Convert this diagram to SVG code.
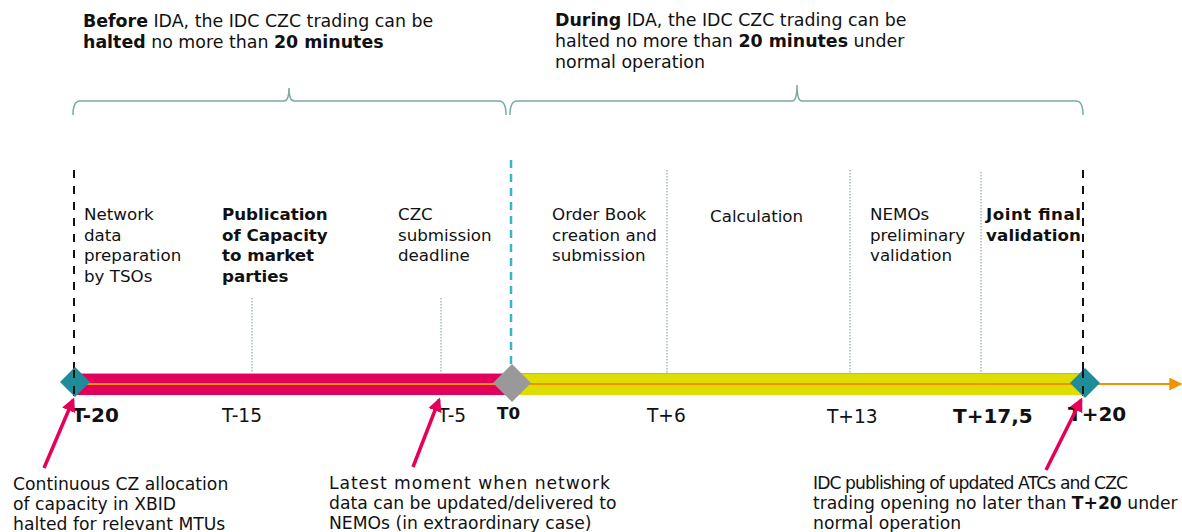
<svg xmlns="http://www.w3.org/2000/svg" width="1182" height="532" viewBox="0 0 1182 532">
<defs>
<style>
text{font-family:"DejaVu Sans","Verdana",sans-serif;font-size:16.7px;fill:#111}
.h{font-size:17.4px}
.n{font-size:17.2px}
.t{font-size:18.6px}
.tb{font-size:20px;font-weight:bold}
.b{font-weight:bold}
.brace{fill:none;stroke:#78aba3;stroke-width:1.5}
.dot{stroke:#8fa8a8;stroke-width:1.2;stroke-dasharray:1.5 1.5}
.dashk{stroke:#111;stroke-width:2;stroke-dasharray:8 8}
.dashc{stroke:#3ab4c8;stroke-width:2.5;stroke-dasharray:8 6}
.pink{stroke:#e5005a;stroke-width:3.5;fill:none}
</style>
<marker id="ph" viewBox="0 0 10 10" refX="8" refY="5" markerWidth="4" markerHeight="4" orient="auto">
<path d="M0,0 L10,5 L0,10 z" fill="#e5005a"/>
</marker>
<marker id="oh" viewBox="0 0 10 10" refX="9" refY="5" markerWidth="13" markerHeight="13" markerUnits="userSpaceOnUse" orient="auto">
<path d="M0,0 L10,5 L0,10 z" fill="#f39200"/>
</marker>
</defs>

<g id="header-before" class="h">
<text x="83" y="27" class="h"><tspan class="b">Before</tspan> IDA, the IDC CZC trading can be</text>
<text x="83" y="48" class="h"><tspan class="b">halted</tspan> no more than <tspan class="b">20 minutes</tspan></text>
</g>
<g id="header-during">
<text x="555" y="26" class="h"><tspan class="b">During</tspan> IDA, the IDC CZC trading can be</text>
<text x="555" y="47" class="h">halted no more than <tspan class="b">20 minutes</tspan> under</text>
<text x="555" y="68" class="h">normal operation</text>
</g>

<g id="braces">
<path class="brace" d="M73,115 Q73,101 80,101 L284,101 Q289,101 289,88 Q289,101 294,101 L499,101 Q506,101 506,115"/>
<path class="brace" d="M510,115 Q510,101 517,101 L792,101 Q797,101 797,85 Q797,101 802,101 L1076,101 Q1083,101 1083,115"/>
</g>

<g id="guides">
<line class="dashk" x1="74" y1="170" x2="74" y2="396"/>
<line class="dashk" x1="1083" y1="170" x2="1083" y2="396"/>
<line class="dashc" x1="511" y1="160" x2="511" y2="366"/>
<line class="dot" x1="252" y1="298" x2="252" y2="395"/>
<line class="dot" x1="441" y1="298" x2="441" y2="395"/>
<line class="dot" x1="667" y1="170" x2="667" y2="395"/>
<line class="dot" x1="850" y1="170" x2="850" y2="395"/>
<line class="dot" x1="981" y1="172" x2="981" y2="395"/>
</g>

<g id="timeline">
<rect x="75" y="373" width="437" height="22" fill="#e2005a"/>
<rect x="512" y="373" width="572" height="22" fill="#dedc00"/>
<line x1="75" y1="373.5" x2="1084" y2="373.5" stroke="#b0b0a0" stroke-width="1"/>
<line x1="75" y1="384" x2="1181" y2="384" stroke="#f39200" stroke-width="2.2" marker-end="url(#oh)"/>
</g>

<g id="node-t-20">
<path d="M75,367 L90,382 L75,397 L60,382 z" fill="#1e8c99"/>
<line class="dashk" x1="74" y1="370" x2="74" y2="397"/>
<text x="72" y="422" class="tb">T-20</text>
</g>
<g id="node-t0">
<path d="M512,364 L531,383 L512,402 L493,383 z" fill="#999"/>
<text x="497" y="419" class="b" font-size="18">T0</text>
</g>
<g id="node-t20">
<path d="M1085,368 L1100,383 L1085,398 L1070,383 z" fill="#1e8c99"/>
<line class="dashk" x1="1083" y1="370" x2="1083" y2="397"/>
<text x="1068" y="421" class="tb">T+20</text>
</g>

<g id="tick-labels">
<text x="222" y="422" class="t">T-15</text>
<text x="438" y="422" class="t">T-5</text>
<text x="647" y="422" class="t">T+6</text>
<text x="827" y="423" class="t">T+13</text>
<text x="953" y="423" class="tb">T+17,5</text>
</g>

<g id="phase-network">
<text x="84" y="220">Network</text>
<text x="84" y="241">data</text>
<text x="84" y="261">preparation</text>
<text x="84" y="282">by TSOs</text>
</g>
<g id="phase-publication">
<text x="222" y="220" class="b">Publication</text>
<text x="222" y="241" class="b">of Capacity</text>
<text x="222" y="261" class="b">to market</text>
<text x="222" y="282" class="b">parties</text>
</g>
<g id="phase-czc">
<text x="398" y="220">CZC</text>
<text x="398" y="241">submission</text>
<text x="398" y="261">deadline</text>
</g>
<g id="phase-orderbook">
<text x="552" y="220">Order Book</text>
<text x="552" y="241">creation and</text>
<text x="552" y="261">submission</text>
</g>
<g id="phase-calc">
<text x="710" y="222">Calculation</text>
</g>
<g id="phase-nemos">
<text x="870" y="220">NEMOs</text>
<text x="870" y="241">preliminary</text>
<text x="870" y="261">validation</text>
</g>
<g id="phase-joint">
<text x="986" y="220" class="b" textLength="95">Joint final</text>
<text x="986" y="241" class="b" textLength="95">validation</text>
</g>

<g id="connectors">
<line class="pink" x1="44" y1="468" x2="73" y2="400" marker-end="url(#ph)"/>
<line class="pink" x1="413" y1="467" x2="439" y2="400" marker-end="url(#ph)"/>
<line class="pink" x1="1046" y1="470" x2="1081" y2="400" marker-end="url(#ph)"/>
</g>

<g id="note-t-20">
<text x="13" y="490" class="n">Continuous CZ allocation</text>
<text x="13" y="510" class="n">of capacity in XBID</text>
<text x="13" y="530" class="n">halted for relevant MTUs</text>
</g>
<g id="note-t-5">
<text x="329" y="489" class="n" textLength="281">Latest moment when network</text>
<text x="329" y="509" class="n">data can be updated/delivered to</text>
<text x="329" y="529" class="n">NEMOs (in extraordinary case)</text>
</g>
<g id="note-t20">
<text x="813" y="489" class="n" textLength="315">IDC publishing of updated ATCs and CZC</text>
<text x="813" y="509" class="n">trading opening no later than <tspan class="b">T+20</tspan> under</text>
<text x="813" y="529" class="n">normal operation</text>
</g>
</svg>
